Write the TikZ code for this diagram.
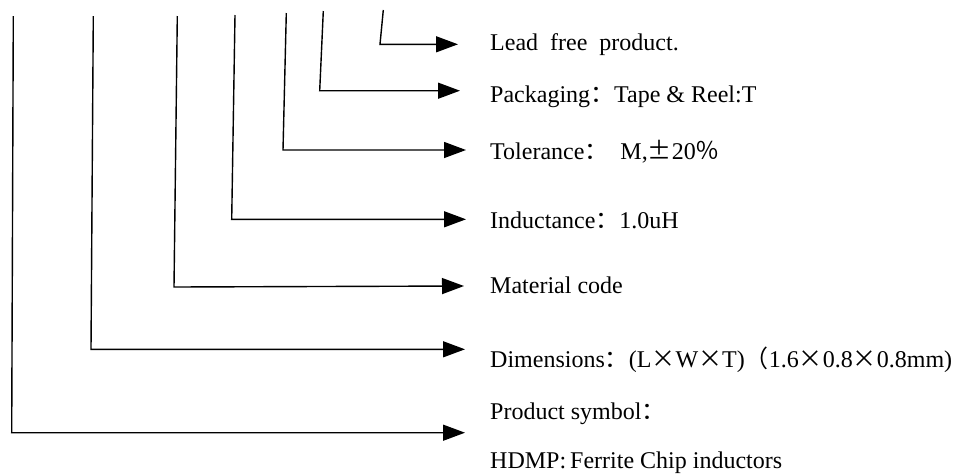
\documentclass[tikz,border=0pt]{standalone}
\usepackage{fontspec}
\setmainfont{Liberation Serif}
\newfontfamily\cjk{Noto Sans CJK SC}
\usetikzlibrary{arrows.meta}
% full-width signs
\newcommand{\fcolon}{{\cjk ：}}
\newcommand{\fparen}{{\cjk （}}
\newcommand{\ftimes}{{\cjk ×}}
\newcommand{\fpm}{{\cjk ±}}
\newcommand{\fpct}{{\cjk ％}}
\begin{document}
\begin{tikzpicture}[x=1pt,y=-1pt,
		leader/.style={line width=1.4pt, -{Triangle[length=22pt,width=16pt]}},
		desc/.style={anchor=base west, inner sep=0pt, font=\fontsize{24}{28}\selectfont}]
		\useasboundingbox (0,0) rectangle (953,475);
		% Texts
		\node[desc] (lead) at (490,50.5) {Lead~~free~~product.};
		\node[desc] (pack) at (490,102) {Packaging\fcolon Tape \& Reel:T};
		\node[desc] (tol) at (490,159) {Tolerance\fcolon\ \ M,\fpm 20\fpct};
		\node[desc] (ind) at (490,228) {Inductance\fcolon 1.0uH};
		\node[desc] (mat) at (490,293) {Material code};
		\node[desc] (dim) at (490,367.5) {Dimensions\fcolon(L\ftimes W\ftimes T)\fparen 1.6\ftimes 0.8\ftimes 0.8mm)};
		\node[desc] (sym) at (490,419) {Product symbol\fcolon};
		\node[desc] (hdmp) at (490,468) {HDMP:\,Ferrite Chip inductors};
		% Leader tops
		\coordinate (t1) at (13.3,16);
		\coordinate (t2) at (93.3,16);
		\coordinate (t3) at (177.3,16);
		\coordinate (t4) at (235,15);
		\coordinate (t5) at (286.3,13);
		\coordinate (t6) at (323.3,11);
		\coordinate (t7) at (383.3,10);
		% Leader corners
		\coordinate (b1) at (11.7,432.7);
		\coordinate (b2) at (91,349.3);
		\coordinate (b3) at (174,287);
		\coordinate (b4) at (231.7,219.3);
		\coordinate (b5) at (283,150);
		\coordinate (b6) at (319.7,90.7);
		\coordinate (b7) at (380,44.3);
		% Arrow ends
		\coordinate (e1) at (465,432.7);
		\coordinate (e2) at (465,349.3);
		\coordinate (e3) at (464,286);
		\coordinate (e4) at (466,219.3);
		\coordinate (e5) at (466,150);
		\coordinate (e6) at (460,90.7);
		\coordinate (e7) at (458,44.3);
		% Leaders
		\draw[leader] (t1) -- (b1) -- (e1);
		\draw[leader] (t2) -- (b2) -- (e2);
		\draw[leader] (t3) -- (b3) -- (e3);
		\draw[leader] (t4) -- (b4) -- (e4);
		\draw[leader] (t5) -- (b5) -- (e5);
		\draw[leader] (t6) -- (b6) -- (e6);
		\draw[leader] (t7) -- (b7) -- (e7);
	\end{tikzpicture}
\end{document}
